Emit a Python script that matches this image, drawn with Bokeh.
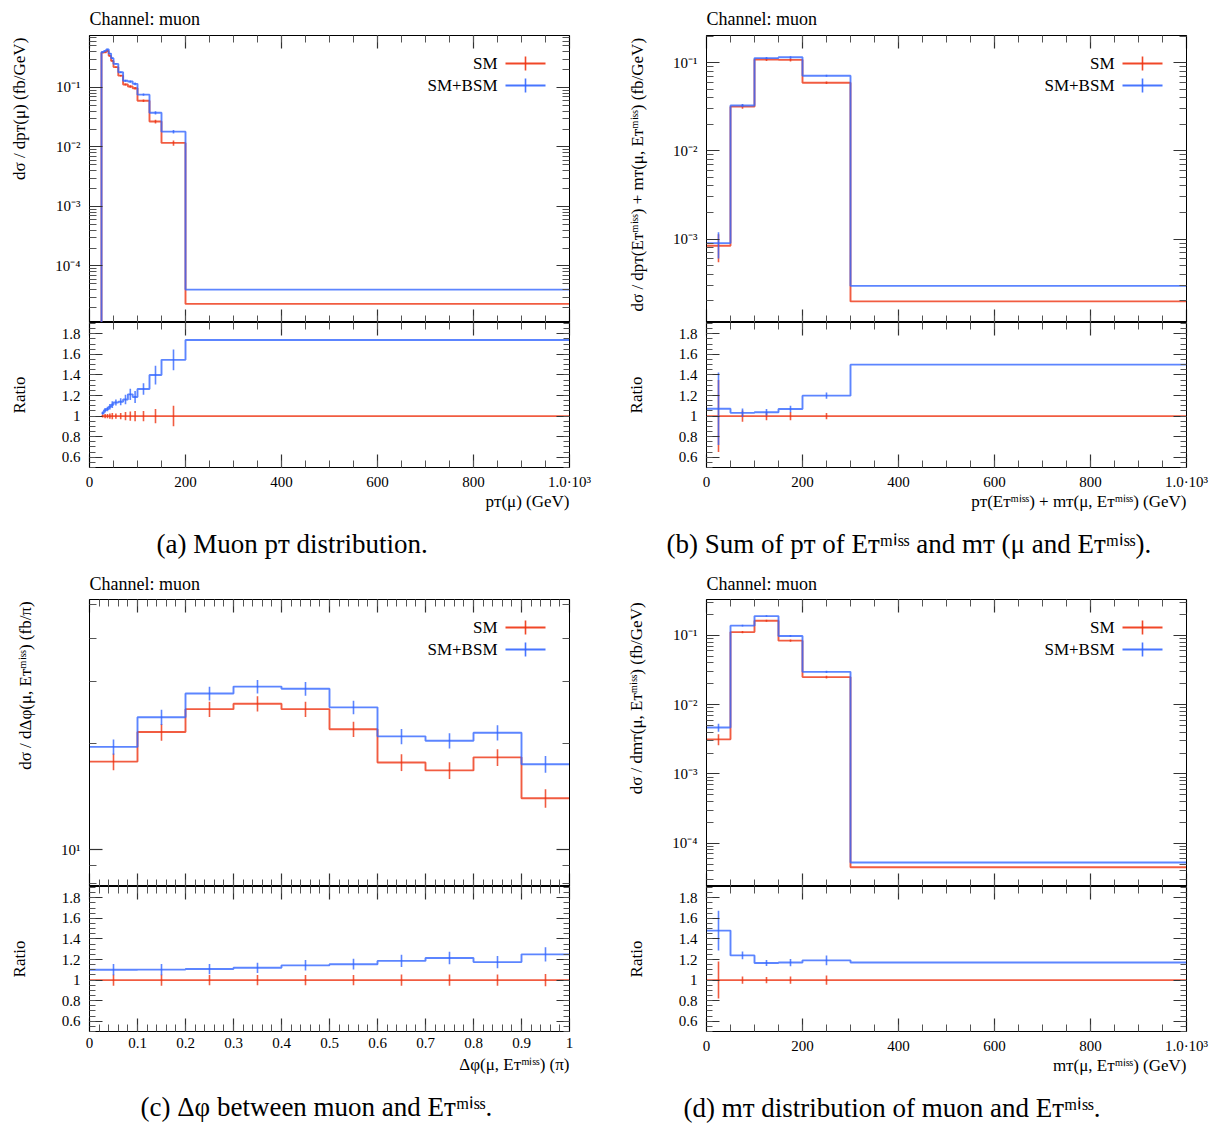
import numpy as np
from bokeh.plotting import figure
from bokeh.layouts import column, row
from bokeh.models import (FixedTicker, CustomJSTickFormatter, LinearAxis, LogAxis,
                          Range1d, Title)
from bokeh.core.properties import value
from bokeh.embed import file_html
from bokeh.resources import INLINE

RED = "#EE3311"
BLUE = "#3366FF"
FONT = "Liberation Serif"

# ---------------- data ----------------
# (a) muon pT
edges_a = [25, 30, 35, 40, 45, 50, 60, 70, 80, 90, 100, 125, 150, 200, 1000]
sm_a = [0.385, 0.39, 0.41, 0.34, 0.28, 0.22, 0.158, 0.112, 0.104, 0.097, 0.060, 0.0268, 0.0117, 2.3e-5]
bsm_a = [0.396, 0.412, 0.438, 0.371, 0.311, 0.249, 0.180, 0.130, 0.126, 0.115, 0.0758, 0.0375, 0.0181, 4.0e-5]
sm_rel_a = [0.015, 0.02, 0.02, 0.025, 0.03, 0.025, 0.03, 0.04, 0.045, 0.05, 0.05, 0.07, 0.1, 0.0]
bsm_rel_a = [0.015, 0.02, 0.02, 0.025, 0.03, 0.025, 0.03, 0.04, 0.045, 0.05, 0.045, 0.065, 0.065, 0.0]

# (b) pT(MET) + mT
edges_b = [0, 50, 100, 150, 200, 300, 1000]
sm_b = [8.4e-4, 0.0318, 0.109, 0.108, 0.0594, 1.96e-4]
bsm_b = [9.0e-4, 0.0328, 0.113, 0.1155, 0.0712, 2.94e-4]
sm_rel_b = [0.35, 0.055, 0.04, 0.04, 0.03, 0.0]
bsm_rel_b = [0.33, 0.04, 0.03, 0.03, 0.025, 0.0]

# (c) delta phi
edges_c = [0.0, 0.1, 0.2, 0.3, 0.4, 0.5, 0.6, 0.7, 0.8, 0.9, 1.0]
sm_c = [17.8, 21.6, 25.1, 26.0, 25.1, 22.0, 17.7, 16.8, 18.3, 14.0]
bsm_c = [19.6, 23.8, 27.8, 29.1, 28.7, 25.4, 21.0, 20.4, 21.5, 17.5]
sm_rel_c = [0.055, 0.055, 0.05, 0.05, 0.05, 0.05, 0.055, 0.055, 0.055, 0.06]
bsm_rel_c = [0.05, 0.05, 0.045, 0.045, 0.045, 0.045, 0.05, 0.05, 0.05, 0.055]

# (d) mT
edges_d = [0, 50, 100, 150, 200, 300, 1000]
sm_d = [3.16e-3, 0.1116, 0.163, 0.084, 0.025, 4.5e-5]
bsm_d = [4.68e-3, 0.1384, 0.19, 0.0983, 0.0298, 5.27e-5]
sm_rel_d = [0.18, 0.035, 0.03, 0.035, 0.045, 0.0]
bsm_rel_d = [0.13, 0.03, 0.025, 0.03, 0.04, 0.0]

series_labels = ["SM", "SM+BSM"]

# ---------------- helpers ----------------
LOG_FMT = """
const e = Math.round(Math.log10(tick));
const sup = {"-": "\u207b", "0": "\u2070", "1": "\u00b9", "2": "\u00b2", "3": "\u00b3",
             "4": "\u2074", "5": "\u2075", "6": "\u2076", "7": "\u2077", "8": "\u2078", "9": "\u2079"};
let s = "";
for (const c of String(e)) { s += sup[c]; }
return "10" + s;
"""
GEV_FMT = """
if (Math.abs(tick - 1000) < 1e-6) { return "1.0\u00b710\u00b3"; }
return String(Math.round(tick));
"""
DEC_FMT = """
return String(Math.round(tick * 10) / 10);
"""
EMPTY_FMT = "return '';"

FW, FH, RH = 480, 287, 145
NBSP = "\u00a0"


def log_ticks(lo, hi):
    majors, minors = [], []
    for e in range(int(np.floor(np.log10(lo))) - 1, int(np.ceil(np.log10(hi))) + 1):
        majors.append(10.0 ** e)
        for k in range(2, 10):
            minors.append(k * 10.0 ** e)
    return majors, minors


def style_axis(ax, major, minor, labels=True, fsize="15px", standoff=6):
    ax.major_tick_in = major
    ax.major_tick_out = 0
    ax.minor_tick_in = minor
    ax.minor_tick_out = 0
    ax.axis_line_color = "black"
    ax.major_tick_line_color = "#333333"
    ax.minor_tick_line_color = "#555555"
    ax.major_tick_line_width = 1.2
    ax.minor_tick_line_width = 1.0
    ax.major_label_text_color = "black"
    ax.major_label_text_font = FONT
    ax.axis_label = None
    ax.axis_label_text_font = FONT
    ax.axis_label_text_font_style = "normal"
    ax.axis_label_text_font_size = "17px"
    ax.axis_label_text_color = "black"
    if labels:
        ax.major_label_text_font_size = fsize
        ax.major_label_standoff = standoff
    else:
        ax.formatter = CustomJSTickFormatter(code=EMPTY_FMT)
        ax.major_label_text_font_size = "1px"
        ax.major_label_standoff = 0
        ax.axis_label_standoff = 0


def step_xy(edges, vals, ybottom=None):
    xs, ys = [], []
    if ybottom is not None:
        xs.append(edges[0])
        ys.append(ybottom)
    for i, v in enumerate(vals):
        xs += [edges[i], edges[i + 1]]
        ys += [v, v]
    return xs, ys


def err_segments(edges, vals, rel):
    cx, lo, hi = [], [], []
    for i, v in enumerate(vals):
        if rel[i] > 0:
            cx.append(0.5 * (edges[i] + edges[i + 1]))
            lo.append(v * (1 - rel[i]))
            hi.append(v * (1 + rel[i]))
    return cx, lo, hi


def fx(xr, px):
    return xr[0] + (xr[1] - xr[0]) * px / FW


def fy_log(yr, py):
    l0, l1 = np.log10(yr[0]), np.log10(yr[1])
    return 10 ** (l0 + (l1 - l0) * py / FH)


def add_legend(p, xr, yr):
    rows = [(series_labels[0], RED, FH - 28), (series_labels[1], BLUE, FH - 50)]
    for txt, col, py in rows:
        yy = fy_log(yr, py)
        p.text(x=[fx(xr, 408)], y=[yy], text=[txt], text_align="right", text_baseline="middle",
               text_font=value(FONT), text_font_size="17px", text_color="black")
        p.segment(x0=[fx(xr, 416)], y0=[yy], x1=[fx(xr, 456)], y1=[yy],
                  line_color=col, line_width=1.8, line_alpha=0.9)
        p.segment(x0=[fx(xr, 436)], y0=[fy_log(yr, py - 7)], x1=[fx(xr, 436)],
                  y1=[fy_log(yr, py + 7)], line_color=col, line_width=1.6, line_alpha=0.9)


def mk_title(text, align, size, standoff, offset=0):
    return Title(text=text, align=align, offset=offset, text_font=FONT, text_font_size=size,
                 text_font_style="normal", text_color="black", standoff=standoff)


def make_panel(edges, sm, bsm, sm_rel, bsm_rel, xr, yr, xmaj, xmin, xfmt, ymaj, ymin,
               ylabel, ypad, xlabel, caption, cap_off, lb, rb, top_border, bottom_border,
               title_so, xlab_so, spacer_so):
    # ---- main plot ----
    m = figure(frame_width=FW, frame_height=FH, x_range=Range1d(*xr), y_range=Range1d(*yr),
               y_axis_type="log", output_backend="svg", toolbar_location=None,
               min_border_left=lb, min_border_right=rb, min_border_top=top_border,
               min_border_bottom=0, outline_line_color="black",
               background_fill_color="white", border_fill_color="white")
    m.xgrid.visible = False
    m.ygrid.visible = False
    m.title.text = "Channel: muon"
    m.title.align = "left"
    m.title.text_font = FONT
    m.title.text_font_style = "normal"
    m.title.text_font_size = "18px"
    m.title.text_color = "black"
    m.title.standoff = title_so

    ax = m.xaxis[0]
    ax.ticker = FixedTicker(ticks=xmaj, minor_ticks=xmin)
    style_axis(ax, 13, 7, labels=False)
    top = LinearAxis(ticker=FixedTicker(ticks=xmaj, minor_ticks=xmin))
    style_axis(top, 13, 7, labels=False)
    m.add_layout(top, "above")

    ay = m.yaxis[0]
    ay.ticker = FixedTicker(ticks=ymaj, minor_ticks=ymin)
    ay.formatter = CustomJSTickFormatter(code=LOG_FMT)
    style_axis(ay, 13, 7, labels=True, standoff=9)
    # label is top-aligned: leading no-break spaces push the centred text up to the frame top
    ay.axis_label = NBSP * ypad + ylabel
    ay.axis_label_standoff = 23
    right = LogAxis(ticker=FixedTicker(ticks=ymaj, minor_ticks=ymin))
    style_axis(right, 13, 7, labels=False)
    m.add_layout(right, "right")

    xstart = xr[0]
    for vals, rel, col in [(sm, sm_rel, RED), (bsm, bsm_rel, BLUE)]:
        ybt = yr[0] if edges[0] > xstart else None
        xs, ys = step_xy(edges, vals, ybt)
        m.line(xs, ys, line_color=col, line_width=1.9, line_alpha=0.8)
        cx, lo, hi = err_segments(edges, vals, rel)
        m.segment(x0=cx, y0=lo, x1=cx, y1=hi, line_color=col, line_width=1.6, line_alpha=0.8)
    add_legend(m, xr, yr)

    # ---- ratio plot ----
    r = figure(frame_width=FW, frame_height=RH, x_range=m.x_range, y_range=Range1d(0.5, 1.91),
               output_backend="svg", toolbar_location=None,
               min_border_left=lb, min_border_right=rb, min_border_top=0,
               min_border_bottom=bottom_border, outline_line_color="black",
               background_fill_color="white", border_fill_color="white")
    r.xgrid.visible = False
    r.ygrid.visible = False
    rx = r.xaxis[0]
    rx.ticker = FixedTicker(ticks=xmaj, minor_ticks=xmin)
    rx.formatter = CustomJSTickFormatter(code=xfmt)
    style_axis(rx, 13, 7, labels=True, standoff=6)
    rtop = LinearAxis(ticker=FixedTicker(ticks=xmaj, minor_ticks=xmin))
    style_axis(rtop, 13, 7, labels=False)
    r.add_layout(rtop, "above")

    rmaj = [0.6, 0.8, 1.0, 1.2, 1.4, 1.6, 1.8]
    rmin = [round(0.5 + 0.05 * i, 2) for i in range(29)]
    ry = r.yaxis[0]
    ry.ticker = FixedTicker(ticks=rmaj, minor_ticks=rmin)
    ry.formatter = CustomJSTickFormatter(code=DEC_FMT)
    style_axis(ry, 13, 6, labels=True, standoff=9)
    ry.axis_label = "Ratio"
    ry.axis_label_standoff = 30
    rright = LinearAxis(ticker=FixedTicker(ticks=rmaj, minor_ticks=rmin))
    style_axis(rright, 13, 6, labels=False)
    r.add_layout(rright, "right")

    ref = np.array(sm, dtype=float)
    for vals, rel, col in [(sm, sm_rel, RED), (bsm, bsm_rel, BLUE)]:
        ratio = list(np.array(vals, dtype=float) / ref)
        xs, ys = step_xy(edges, ratio)
        r.line(xs, ys, line_color=col, line_width=1.9, line_alpha=0.8)
        cx, lo, hi = err_segments(edges, ratio, rel)
        r.segment(x0=cx, y0=lo, x1=cx, y1=hi, line_color=col, line_width=1.6, line_alpha=0.8)

    r.add_layout(mk_title(xlabel, "right", "17px", xlab_so), "below")
    r.add_layout(mk_title(NBSP, "left", "2px", spacer_so), "below")
    r.add_layout(mk_title(caption, "left", "27px", 8, cap_off), "below")
    return column(m, r, spacing=0)


gev_major = [0, 200, 400, 600, 800, 1000]
gev_minor = list(range(0, 1001, 50))
dphi_major = [round(0.1 * i, 1) for i in range(11)]
dphi_minor = [round(0.02 * i, 2) for i in range(51)]

ya = (1.12e-5, 0.748)
yb = (1.13e-4, 0.204)
yc = (7.85, 51.5)
yd = (2.37e-5, 0.33)

ma, mi_a = log_ticks(*ya)
mb, mi_b = log_ticks(*yb)
md, mi_d = log_ticks(*yd)

ET = "E\u1d1b\u1d50\u2071\u02e2\u02e2"
pT = "p\u1d1b"
mT = "m\u1d1b"

pa = make_panel(edges_a, sm_a, bsm_a, sm_rel_a, bsm_rel_a, (0, 1000), ya, gev_major, gev_minor,
                GEV_FMT, ma, mi_a,
                "d\u03c3 / d" + pT + "(\u03bc) (fb/GeV)", 33, pT + "(\u03bc) (GeV)",
                "(a) Muon " + pT + " distribution.", 67, 89, 37, 35, 96, 13, -6, 11)
pb = make_panel(edges_b, sm_b, bsm_b, sm_rel_b, bsm_rel_b, (0, 1000), yb, gev_major, gev_minor,
                GEV_FMT, mb, mi_b,
                "d\u03c3 / d" + pT + "(" + ET + ") + " + mT + "(\u03bc, " + ET + ") (fb/GeV)", 2,
                pT + "(" + ET + ") + " + mT + "(\u03bc, " + ET + ") (GeV)",
                "(b) Sum of " + pT + " of " + ET + " and " + mT + " (\u03bc and " + ET + ").",
                -40, 100, 27, 35, 96, 13, -6, 11)
pc = make_panel(edges_c, sm_c, bsm_c, sm_rel_c, bsm_rel_c, (0, 1), yc, dphi_major, dphi_minor,
                DEC_FMT, [10.0], [8.0, 9.0, 20.0, 30.0, 40.0, 50.0],
                "d\u03c3 / d\u0394\u03c6(\u03bc, " + ET + ") (fb/\u03c0)", 27,
                "\u0394\u03c6(\u03bc, " + ET + ") (\u03c0)",
                "(c) \u0394\u03c6 between muon and " + ET + ".", 51, 89, 37, 36, 95, 12, 4, 6)
pd_ = make_panel(edges_d, sm_d, bsm_d, sm_rel_d, bsm_rel_d, (0, 1000), yd, gev_major, gev_minor,
                 GEV_FMT, md, mi_d,
                 "d\u03c3 / d" + mT + "(\u03bc, " + ET + ") (fb/GeV)", 21,
                 mT + "(\u03bc, " + ET + ") (GeV)",
                 "(d) " + mT + " distribution of muon and " + ET + ".", -23, 100, 27, 36, 95, 12, -6, 11)

layout = column(row(pa, pb, spacing=0), row(pc, pd_, spacing=0), spacing=0)

html = file_html(layout, INLINE, title="plot")
with open("out.html", "w") as f:
    f.write(html)
